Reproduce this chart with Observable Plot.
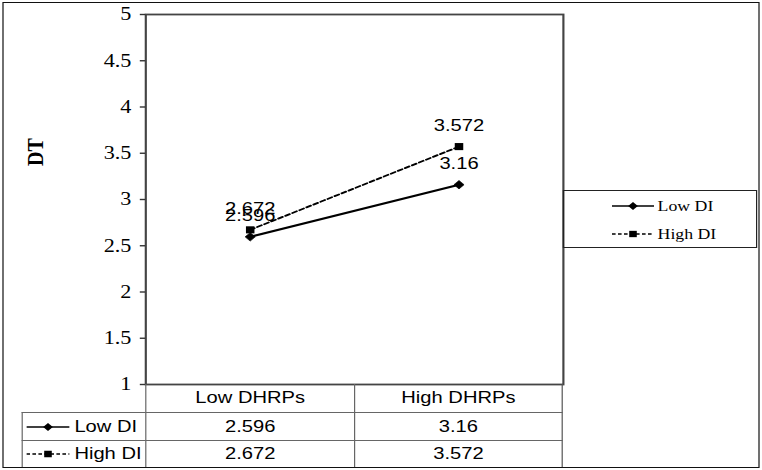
<!DOCTYPE html>
<html><head><meta charset="utf-8">
<script src="https://cdn.jsdelivr.net/npm/d3@7"></script>
<script src="https://cdn.jsdelivr.net/npm/@observablehq/plot@0.6"></script>
<style>
html,body{margin:0;padding:0;background:#fff;}
#stage{position:relative;width:635px;height:470px;transform:scaleX(1.2);transform-origin:0 0;overflow:hidden;background:#fff;}
#outer{position:absolute;left:1.5px;top:1.5px;width:631px;height:466px;border:1.8px solid #111;box-sizing:border-box;pointer-events:none;}
#chart{position:absolute;left:0;top:0;}
#ylabel{position:absolute;left:29px;top:152px;transform:translate(-50%,-50%) rotate(-90deg);font:bold 20px "Liberation Serif";white-space:nowrap;}
#table{position:absolute;left:18px;top:384px;display:grid;grid-template-columns:103px 174px 174px;grid-template-rows:28px 28px 27px;font:16.8px "Liberation Sans";color:#000;}
#table .cell{box-sizing:border-box;display:flex;align-items:center;justify-content:center;}
#table .hdr{border-left:1.5px solid #666;}
#table .body{border-left:1.5px solid #666;border-top:1.5px solid #666;}
#table .last{border-right:1.6px solid #555;}
#table .lab{justify-content:flex-start;padding-left:3px;}
#table .lab svg{margin-right:4px;}
#legend{position:absolute;left:469px;top:190px;width:162px;height:58px;box-sizing:border-box;border:1.5px solid #222;font:14.8px "Liberation Serif";}
#legend .item{position:absolute;left:40px;display:flex;align-items:center;height:20px;transform:translateY(-50%);}
#legend .item svg{margin-right:3px;}
</style>
</head><body>
<div id="stage">
  <div id="chart"></div>
  <div id="ylabel"></div>
  <div id="table"></div>
  <div id="legend"></div>
  <div id="outer"></div>
</div>
<script>
// ---- data ----
const categories = ["Low DHRPs", "High DHRPs"];
const seriesNames = ["Low DI", "High DI"];
const lowDI = [2.596, 3.16];
const highDI = [2.672, 3.572];
const yTicks = [1, 1.5, 2, 2.5, 3, 3.5, 4, 4.5, 5];
const yLabel = "DT";

// ---- build tables ----
const lowData = categories.map((c, i) => ({cat: c, series: seriesNames[0], value: lowDI[i]}));
const highData = categories.map((c, i) => ({cat: c, series: seriesNames[1], value: highDI[i]}));
const allData = [...lowData, ...highData];

const chart = Plot.plot({
  width: 635,
  height: 470,
  marginLeft: 121,
  marginRight: 166,
  marginTop: 14,
  marginBottom: 86,
  style: {background: "transparent", fontFamily: "Liberation Serif", overflow: "visible"},
  x: {type: "band", domain: categories, padding: 0, axis: null},
  y: {domain: [1, 5], axis: null},
  marks: [
    Plot.frame({stroke: "#444", strokeWidth: 1.8}),
    Plot.axisY({ticks: yTicks, tickSize: 4.5, tickPadding: 7.5, tickFormat: d => String(d),
      fontSize: 18.5, stroke: "#333", strokeWidth: 1.4, fill: "#000", label: null}),
    Plot.line(lowData, {x: "cat", y: "value", stroke: "#000", strokeWidth: 2.2}),
    Plot.line(highData, {x: "cat", y: "value", stroke: "#000", strokeWidth: 1.8, strokeDasharray: "4,2.5"}),
    Plot.dot(lowData, {x: "cat", y: "value", symbol: "diamond2", r: 3.8, fill: "#000", stroke: "#000", strokeWidth: 0.6}),
    Plot.dot(highData, {x: "cat", y: "value", symbol: "square", r: 4, fill: "#000"}),
    Plot.text(allData, {x: "cat", y: "value", text: d => String(d.value), dy: -21,
      fontSize: 16.8, fontFamily: "Liberation Sans", fill: "#000"})
  ]
});
document.getElementById("chart").appendChild(chart);

document.getElementById("ylabel").textContent = yLabel;

// ---- symbols for legend / table ----
function symbolSvg(idx, w) {
  const svg = d3.create("svg").attr("width", w).attr("height", 14);
  const line = svg.append("line").attr("x1", 0).attr("x2", w).attr("y1", 7).attr("y2", 7)
    .attr("stroke", "#000").attr("stroke-width", idx === 0 ? 1.7 : 1.5);
  if (idx === 1) line.attr("stroke-dasharray", "3,2");
  const sym = idx === 0 ? d3.symbol(d3.symbolDiamond2, 42) : d3.symbol(d3.symbolSquare, 40);
  svg.append("path").attr("d", sym()).attr("transform", `translate(${w / 2},7)`).attr("fill", "#000");
  return svg.node();
}

// ---- table ----
const table = d3.select("#table");
table.append("div").attr("class", "cell");
categories.forEach((c, i) => {
  table.append("div").attr("class", "cell hdr" + (i === categories.length - 1 ? " last" : "")).text(c);
});
[lowDI, highDI].forEach((vals, s) => {
  const lab = table.append("div").attr("class", "cell body lab");
  lab.node().appendChild(symbolSvg(s, 36));
  lab.append("span").text(seriesNames[s]);
  vals.forEach((v, i) => {
    table.append("div").attr("class", "cell body" + (i === vals.length - 1 ? " last" : "")).text(String(v));
  });
});

// ---- legend ----
const legend = d3.select("#legend");
seriesNames.forEach((name, s) => {
  const it = legend.append("div").attr("class", "item").style("top", (s === 0 ? 15 : 43) + "px");
  it.node().appendChild(symbolSvg(s, 35));
  it.append("span").text(name);
});
</script>
</body></html>
